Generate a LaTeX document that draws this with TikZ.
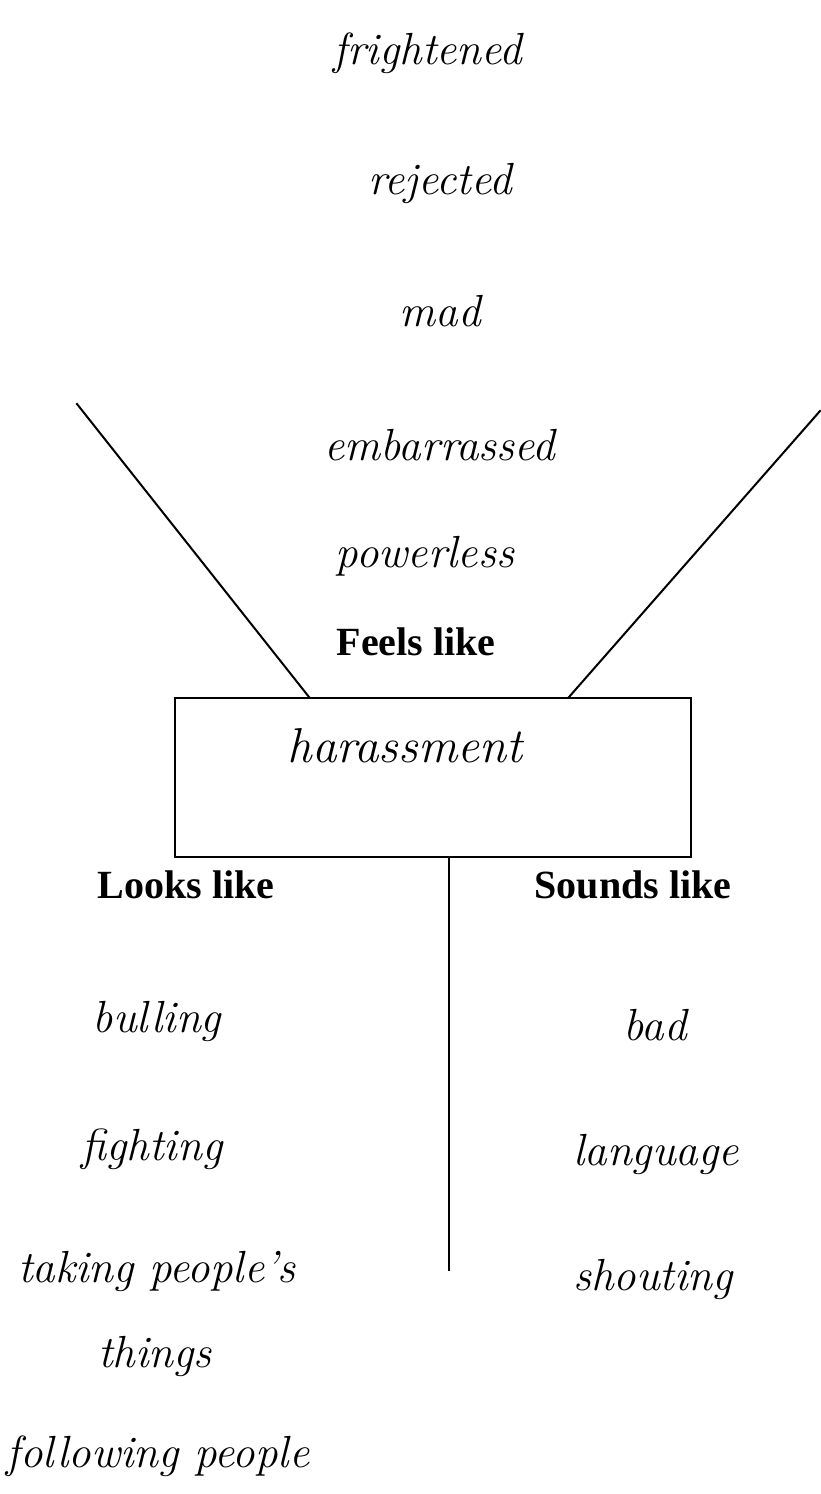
\documentclass[tikz,border=0pt]{standalone}
\usepackage{fontspec}
\newfontfamily\headfamily{Liberation Serif}
\newcommand\scrfont{\itshape\fontsize{45}{48}\selectfont}
\newcommand\bigscrfont{\itshape\fontsize{49}{52}\selectfont}
\newcommand\lblfont{\headfamily\bfseries\fontsize{40}{43}\selectfont}
\tikzset{
  word/.style={anchor=base, inner sep=0pt, font=\scrfont, align=center},
  bigword/.style={anchor=base, inner sep=0pt, font=\bigscrfont},
  heading/.style={anchor=base, inner sep=0pt, font=\lblfont},
  conn/.style={line width=2pt, line cap=rect},
  frame/.style={draw, line width=2pt, minimum width=516pt, minimum height=159pt, inner sep=0pt, anchor=north west}
}
\begin{document}
\begin{tikzpicture}[x=1pt,y=1pt]
\useasboundingbox (0,0) rectangle (821,-1494);
% central box
\node[frame] (box) at (174,-697) {};
\node[bigword] (har) at (405,-762) {harassment};
% feels like
\node[word] (w1) at (428,-64) {frightened};
\node[word] (w2) at (440,-194) {rejected};
\node[word] (w3) at (440,-326) {mad};
\node[word] (w4) at (440,-460) {embarrassed};
\node[word] (w5) at (425,-567) {powerless};
\node[heading] (feels) at (416,-655) {Feels like};
% looks like
\node[heading] (looks) at (186,-898) {Looks like};
\node[word] (l1) at (157,-1032) {bulling};
\node[word] (l2) at (152,-1160) {fighting};
\node[word] (l3) at (157,-1282) {taking people's};
\node[word] (l4) at (155,-1367) {things};
\node[word] (l5) at (158,-1467) {following people};
% sounds like
\node[heading] (sounds) at (633,-898) {Sounds like};
\node[word] (s1) at (655,-1040) {bad};
\node[word] (s2) at (656,-1165) {language};
\node[word] (s3) at (653,-1290) {shouting};
% connectors
\coordinate (ltop) at (77,-404);
\coordinate (lbot) at (309,-697);
\coordinate (rtop) at (820,-411);
\coordinate (rbot) at (569,-697);
\coordinate (vend) at (449,-1270);
\draw[conn] (ltop) -- (lbot |- box.north);
\draw[conn] (rtop) -- (rbot |- box.north);
\draw[conn] (vend |- box.south) -- (vend);
\end{tikzpicture}
\end{document}
